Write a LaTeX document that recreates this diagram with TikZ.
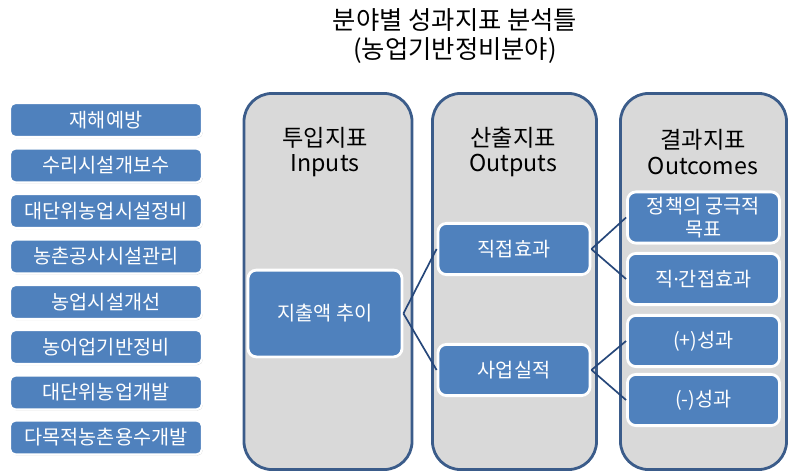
\documentclass[tikz,border=0pt]{standalone}
\usepackage{fontspec}
\setmainfont{Noto Sans CJK KR}
\newfontfamily\dotfont{Noto Sans}
\usetikzlibrary{shadows}
\definecolor{boxblue}{HTML}{4F81BD}
\definecolor{colgray}{HTML}{D9D9D9}
\definecolor{colline}{HTML}{3B5C8A}
\definecolor{linkblue}{HTML}{26477A}

\begin{document}
\begin{tikzpicture}[x=0.025cm,y=-0.025cm,
  item/.style={draw=white,line width=1.5pt,fill=boxblue,rounded corners=4pt,text=white,
    minimum width=4.8cm,minimum height=0.85cm,font=\fontsize{14}{16}\selectfont,
    drop shadow={shadow xshift=0.6pt,shadow yshift=-0.8pt,opacity=0.35}},
  column/.style={draw=colline,line width=2pt,fill=colgray,rounded corners=20pt,
    minimum width=4.2cm,minimum height=9.4cm},
  head/.style={align=center,font=\fontsize{16.5}{18}\selectfont},
  sub/.style={draw=white,line width=2pt,fill=boxblue,rounded corners=6pt,text=white,
    align=center,font=\fontsize{14}{16.5}\selectfont,minimum width=3.8cm,minimum height=1.28cm,
    drop shadow={shadow xshift=0.6pt,shadow yshift=-0.8pt,opacity=0.35}},
  link/.style={draw=linkblue,line width=1.2pt}]
  \useasboundingbox (0,0) rectangle (789,475);
  \node (title) at (455,36) [align=center,font=\fontsize{18}{20}\selectfont] {분야별 성과지표 분석틀\\(농업기반정비분야)};
  \node (l1) at (106,120) [item] {재해예방};
  \node (l2) at (106,165.5) [item] {수리시설개보수};
  \node (l3) at (106,211) [item] {대단위농업시설정비};
  \node (l4) at (106,256.5) [item] {농촌공사시설관리};
  \node (l5) at (106,302) [item] {농업시설개선};
  \node (l6) at (106,347) [item] {농어업기반정비};
  \node (l7) at (106,392.5) [item] {대단위농업개발};
  \node (l8) at (106,437.5) [item] {다목적농촌용수개발};
  \node (colA) at (328,281.5) [column] {};
  \node (colB) at (514.5,281.5) [column,minimum width=4.1cm] {};
  \node (colC) at (703.5,281.5) [column,minimum width=4.15cm] {};
  \node (hA) at (325,152) [head] {투입지표\\Inputs};
  \node (hB) at (513,152) [head] {산출지표\\Outputs};
  \node (hC) at (703,152) [head] {결과지표\\Outcomes};
  \node (in) at (325,313.5) [sub,minimum width=3.85cm,minimum height=2.17cm] {지출액 추이};
  \node (out1) at (514,249) [sub] {직접효과};
  \node (out2) at (514,370) [sub] {사업실적};
  \node (res1) at (703.5,217.5) [sub] {정책의 궁극적\\목표};
  \node (res2) at (703.5,279) [sub] {직{\dotfont·}간접효과};
  \node (res3) at (703.5,341) [sub] {(+)성과};
  \node (res4) at (703.5,400) [sub] {(-)성과};
  \path [link] (in.east) edge (out1.west) edge (out2.west);
  \path [link] (out1.east) edge (res1.west) edge (res2.west);
  \path [link] (out2.east) edge (res3.west) edge (res4.west);
\end{tikzpicture}
\end{document}
